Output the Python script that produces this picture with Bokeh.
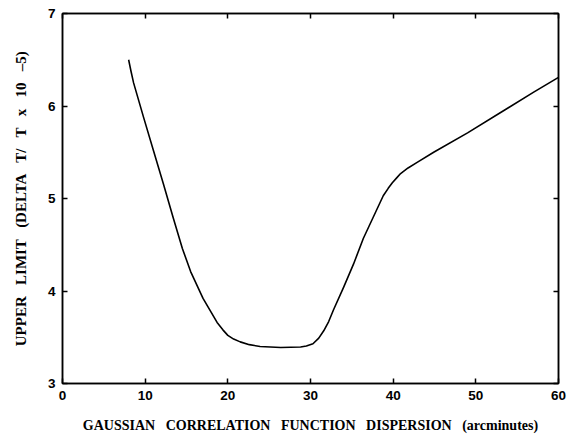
from bokeh.plotting import figure
from bokeh.models import LinearAxis, Range1d, FixedTicker, CustomLabelingPolicy
from bokeh.embed import file_html
from bokeh.resources import INLINE

# data
dispersion = [8.0, 8.3, 8.6, 9.8, 11.0, 12.2, 13.4, 14.5, 15.5, 17.0, 18.7, 19.4, 20.0,
              20.7, 21.5, 22.6, 23.9, 26.4, 28.8, 29.5, 30.3, 31.0, 31.6, 32.2, 32.8,
              34.0, 35.2, 36.4, 37.6, 38.8, 39.4, 39.9, 40.4, 40.9, 41.8, 42.9, 44.9,
              49.0, 53.0, 57.0, 60.0]
upper_limit = [6.50, 6.37, 6.25, 5.88, 5.52, 5.16, 4.79, 4.46, 4.21, 3.92, 3.66, 3.58, 3.52,
               3.48, 3.45, 3.42, 3.40, 3.39, 3.395, 3.405, 3.43, 3.49, 3.57, 3.67, 3.80,
               4.04, 4.29, 4.57, 4.80, 5.03, 5.11, 5.17, 5.22, 5.27, 5.33, 5.39, 5.50,
               5.71, 5.93, 6.15, 6.31]
x_ticks = [0, 10, 20, 30, 40, 50, 60]
y_ticks = [3, 4, 5, 6, 7]
S = "\u00a0\u00a0 "
x_label = S.join(["GAUSSIAN", "CORRELATION", "FUNCTION", "DISPERSION", "(arcminutes)"])
y_label = S.join(["UPPER", "LIMIT", "(DELTA", "T/", "T", "x", "10", "\u20135)"])

W, H = 567, 437
L, T, FW, FH = 62, 13, 496, 370
p = figure(width=W, height=H, output_backend="svg", toolbar_location=None,
           x_range=Range1d(0, 60), y_range=Range1d(3, 7),
           min_border_left=L, min_border_top=T,
           min_border_right=W - L - FW, min_border_bottom=H - T - FH,
           x_axis_location=None, y_axis_location=None)
p.outline_line_color = "black"
p.outline_line_width = 1.5
p.grid.visible = False
p.background_fill_color = "white"
p.border_fill_color = "white"

no_labels = CustomLabelingPolicy(code="""
try { for (const i of Array.from(indices)) indices.unset(i) } catch (e) {}
return indices
""")

def style(ax, labels=True):
    ax.axis_line_width = 1.5
    ax.axis_line_color = "black"
    ax.major_tick_in = 5
    ax.major_tick_out = 0
    ax.major_tick_line_width = 1.5
    ax.minor_tick_line_color = None
    if labels:
        ax.major_label_text_font = "Liberation Sans"
        ax.major_label_text_font_style = "bold"
        ax.major_label_text_font_size = "13.5px"
        ax.major_label_text_color = "black"
        ax.axis_label_text_font = "Liberation Serif"
        ax.axis_label_text_font_style = "bold"
        ax.axis_label_text_font_size = "14px"
        ax.axis_label_text_color = "black"
    else:
        ax.major_label_policy = no_labels
        ax.major_label_text_color = None

xb = LinearAxis(ticker=FixedTicker(ticks=x_ticks), axis_label=x_label)
style(xb)
xb.major_label_standoff = 7
xb.axis_label_standoff = 15
p.add_layout(xb, "below")

yl = LinearAxis(ticker=FixedTicker(ticks=y_ticks), axis_label=y_label)
style(yl)
yl.axis_label_text_font_size = "15px"
yl.major_label_standoff = 7
yl.axis_label_standoff = 16
p.add_layout(yl, "left")

xt = LinearAxis(ticker=FixedTicker(ticks=x_ticks))
style(xt, labels=False)
p.add_layout(xt, "above")
yr = LinearAxis(ticker=FixedTicker(ticks=y_ticks))
style(yr, labels=False)
p.add_layout(yr, "right")

p.line(dispersion, upper_limit, line_color="black", line_width=1.6, line_join="round")

open("out.html", "w").write(file_html(p, INLINE))
